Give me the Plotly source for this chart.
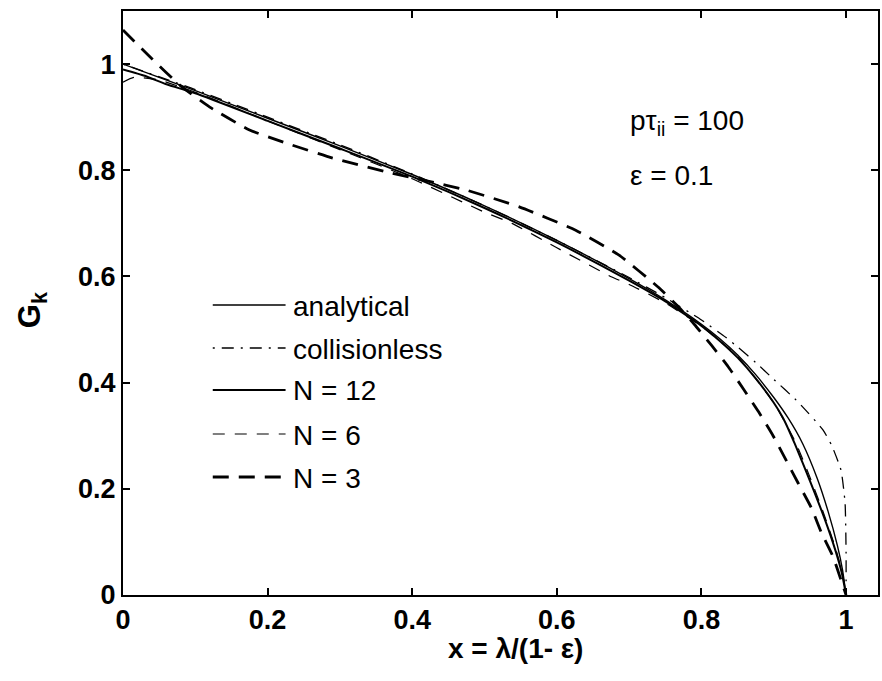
import plotly.graph_objects as go

# ---------------- data ----------------
x_analytical = [0.0, 0.05, 0.1, 0.2, 0.3, 0.4, 0.5, 0.6, 0.7, 0.75, 0.8, 0.825, 0.85, 0.875, 0.9, 0.92, 0.94, 0.96, 0.975, 0.988, 0.995, 1.0]
y_analytical = [1.0, 0.975, 0.950, 0.898, 0.846, 0.792, 0.733, 0.668, 0.596, 0.556, 0.510, 0.483, 0.452, 0.415, 0.372, 0.333, 0.285, 0.220, 0.158, 0.093, 0.048, 0.0]

x_collisionless = [0.0, 0.1, 0.2, 0.3, 0.4, 0.5, 0.6, 0.7, 0.75, 0.8, 0.834, 0.851, 0.875, 0.897, 0.934, 0.968, 0.98, 0.993, 0.9986, 1.0, 1.0]
y_collisionless = [1.0, 0.952, 0.900, 0.848, 0.793, 0.733, 0.668, 0.598, 0.560, 0.518, 0.485, 0.466, 0.438, 0.410, 0.363, 0.311, 0.282, 0.235, 0.173, 0.079, 0.0]

x_n12 = [0.0, 0.03, 0.06, 0.1, 0.2, 0.3, 0.4, 0.5, 0.6, 0.7, 0.75, 0.8, 0.825, 0.85, 0.875, 0.9, 0.913, 0.929, 0.95, 0.971, 0.985, 0.994, 1.0]
y_n12 = [0.990, 0.978, 0.962, 0.945, 0.893, 0.841, 0.788, 0.729, 0.664, 0.592, 0.553, 0.507, 0.479, 0.447, 0.408, 0.362, 0.333, 0.285, 0.215, 0.141, 0.085, 0.042, 0.0]

x_n6 = [0.0, 0.015, 0.05, 0.1, 0.2, 0.3, 0.4, 0.5, 0.538, 0.6, 0.676, 0.7, 0.75, 0.8, 0.85, 0.9, 0.93, 0.95, 0.97, 0.985, 0.995, 1.0]
y_n6 = [0.966, 0.975, 0.970, 0.947, 0.893, 0.839, 0.784, 0.721, 0.700, 0.654, 0.599, 0.585, 0.550, 0.506, 0.449, 0.362, 0.288, 0.222, 0.150, 0.090, 0.040, 0.0]

x_n3 = [0.0, 0.04, 0.079, 0.12, 0.175, 0.226, 0.29, 0.364, 0.42, 0.474, 0.548, 0.626, 0.686, 0.74, 0.77, 0.79, 0.814, 0.837, 0.858, 0.879, 0.899, 0.917, 0.934, 0.952, 0.966, 0.982, 0.993, 1.0]
y_n3 = [1.064, 1.010, 0.960, 0.919, 0.876, 0.851, 0.823, 0.797, 0.780, 0.763, 0.731, 0.687, 0.640, 0.580, 0.540, 0.510, 0.470, 0.430, 0.388, 0.345, 0.300, 0.254, 0.210, 0.164, 0.117, 0.072, 0.028, 0.0]

legend_labels = ["analytical", "collisionless", "N = 12", "N = 6", "N = 3"]
x_ticks = [0, 0.2, 0.4, 0.6, 0.8, 1]
y_ticks = [0, 0.2, 0.4, 0.6, 0.8, 1]
tick_text = ["0", "0.2", "0.4", "0.6", "0.8", "1"]

# ---------------- styles ----------------
styles = [
    dict(width=1.4, dash="solid"),
    dict(width=1.3, dash="2px,7px,12px,7px"),
    dict(width=2.0, dash="solid"),
    dict(width=1.2, dash="12px,10px"),
    dict(width=2.8, dash="16px,10px"),
]
series = [(x_analytical, y_analytical), (x_collisionless, y_collisionless),
          (x_n12, y_n12), (x_n6, y_n6), (x_n3, y_n3)]

W, H = 882, 681
ML, MR, MT, MB = 123, 2, 11, 86
PW, PH = W - ML - MR, H - MT - MB

def px(xp):
    return (xp - ML) / PW

def py(yp):
    return (H - MB - yp) / PH

FONT = "Liberation Sans, Arial, Helvetica, sans-serif"

fig = go.Figure()
for (xs, ys), st, name in zip(series, styles, legend_labels):
    fig.add_trace(go.Scatter(x=xs, y=ys, mode="lines", name=name,
                             line=dict(color="black", width=st["width"], dash=st["dash"],
                                       shape="spline", smoothing=0.5),
                             showlegend=False))

# manual legend (long line samples like the original)
rows_y = [305, 348, 390, 434, 477]
shapes = []
annotations = []
for yrow, st, name in zip(rows_y, styles, legend_labels):
    shapes.append(dict(type="line", xref="paper", yref="paper",
                       x0=px(213), x1=px(286), y0=py(yrow), y1=py(yrow),
                       line=dict(color="black", width=st["width"], dash=st["dash"])))
    annotations.append(dict(x=px(291), y=py(yrow + 1), xref="paper", yref="paper",
                            text=name, showarrow=False, xanchor="left", yanchor="middle",
                            font=dict(family=FONT, size=28, color="black")))

annotations.append(dict(x=px(629), y=py(122), xref="paper", yref="paper",
                        text="pτ<sub>ii</sub> = 100", showarrow=False,
                        xanchor="left", yanchor="middle",
                        font=dict(family=FONT, size=28, color="black")))
annotations.append(dict(x=px(629), y=py(175), xref="paper", yref="paper",
                        text="ε = 0.1", showarrow=False,
                        xanchor="left", yanchor="middle",
                        font=dict(family=FONT, size=28, color="black")))
# axis titles
annotations.append(dict(x=px(517), y=py(648), xref="paper", yref="paper",
                        text="x = λ/(1- ε)", showarrow=False,
                        xanchor="center", yanchor="middle",
                        font=dict(family=FONT, size=28, color="black", weight="bold")))
annotations.append(dict(x=px(32), y=py(310), xref="paper", yref="paper",
                        text="G<sub>k</sub>", showarrow=False, textangle=-90,
                        xanchor="center", yanchor="middle",
                        font=dict(family=FONT, size=31, color="black", weight="bold")))

axis_common = dict(showline=True, linecolor="black", linewidth=2, mirror="ticks",
                   ticks="inside", ticklen=7, tickwidth=1.5, tickcolor="black",
                   showgrid=False, zeroline=False,
                   tickfont=dict(family=FONT, size=27, color="black", weight="bold"))

fig.update_layout(
    width=W, height=H,
    margin=dict(l=ML, r=MR, t=MT, b=MB, pad=0),
    paper_bgcolor="white", plot_bgcolor="white",
    xaxis=dict(range=[0, PW / 725.0], tickvals=x_ticks, ticktext=tick_text, **axis_common),
    yaxis=dict(range=[0, 1.1], tickvals=y_ticks, ticktext=tick_text, **axis_common),
    shapes=shapes, annotations=annotations, showlegend=False,
)

fig.write_html("out.html")
